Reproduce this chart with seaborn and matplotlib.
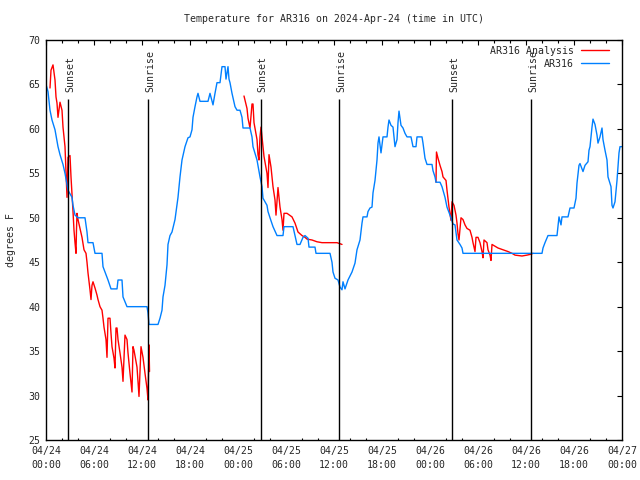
import matplotlib
matplotlib.use("Agg")
import matplotlib.pyplot as plt
import seaborn as sns
import pandas as pd
from matplotlib.ticker import MultipleLocator

# hours since 2024-04-24 00:00 UTC
blue_h = [0, 0.25, 0.5, 0.75, 1.125, 1.5, 1.75, 2.125, 2.375, 2.75,
          3.25, 3.375, 3.625, 4, 4.875, 5.125, 5.25, 5.875, 6.125, 7,
          7.125, 7.375, 7.75, 8.125, 8.875, 9, 9.5, 9.625, 10.125, 12.625,
          12.75, 12.875, 14, 14.25, 14.5, 14.625, 14.875, 15.125, 15.25, 15.5,
          15.75, 16.125, 16.5, 16.75, 17, 17.375, 17.75, 18, 18.25, 18.375,
          18.625, 18.875, 19, 19.25, 20.25, 20.5, 20.875, 21.125, 21.375, 21.75,
          22, 22.375, 22.5, 22.75, 22.875, 23, 23.25, 23.625, 23.875, 24.25,
          24.5, 24.625, 25.5, 25.75, 25.875, 26.375, 26.75, 27, 27.125, 27.625,
          27.75, 28, 28.375, 28.875, 29.625, 29.75, 30.875, 31.125, 31.375, 31.75,
          32.125, 32.375, 32.75, 32.875, 33.625, 33.75, 35.5, 35.75, 35.875, 36.125,
          36.5, 36.75, 37, 37.125, 37.375, 37.75, 38.25, 38.625, 38.875, 39.25,
          39.5, 39.625, 40.125, 40.25, 40.5, 40.75, 40.875, 41.125, 41.375, 41.5,
          41.625, 41.875, 42.125, 42.625, 42.75, 42.875, 43.125, 43.375, 43.625, 43.875,
          44, 44.125, 44.375, 44.625, 44.875, 45.125, 45.625, 45.875, 46.25, 46.375,
          47, 47.125, 47.375, 47.625, 48.25, 48.375, 48.625, 48.75, 49.25, 49.5,
          49.875, 50.125, 50.5, 50.875, 51.125, 51.375, 51.75, 52, 52.125, 62,
          62.125, 62.375, 62.75, 63.875, 64, 64.125, 64.375, 64.5, 65.25, 65.5,
          66, 66.25, 66.375, 66.625, 66.75, 67.125, 67.375, 67.75, 67.875, 68,
          68.25, 68.375, 68.625, 68.875, 69, 69.25, 69.5, 69.625, 69.875, 70.125,
          70.25, 70.625, 70.75, 70.875, 71.125, 71.375, 71.625, 71.75, 72]
blue_v = [65, 64.2, 62.1, 61, 59.9, 58, 57.1, 56, 55, 53.1,
          52.3, 51.4, 50.3, 50, 50, 48.4, 47.2, 47.2, 46, 46,
          44.5, 43.9, 43, 42, 42, 43, 43, 41.1, 40, 40,
          39.3, 38, 38, 38.7, 39.6, 41.1, 42.4, 44.7, 47, 48,
          48.4, 49.8, 52.3, 54.6, 56.5, 58, 59, 59.1, 59.9, 61.3,
          62.5, 63.6, 64, 63.1, 63.1, 64, 62.7, 64, 65.2, 65.2,
          67, 67, 65.6, 67, 65.6, 65.2, 64, 62.5, 62.1, 62.1,
          61.3, 60.1, 60.1, 59.1, 58, 56.5, 54.6, 53.5, 52.2, 51.4,
          50.7, 50, 49, 48, 48, 49, 49, 48, 47, 47,
          47.8, 48, 47.7, 46.7, 46.7, 46, 46, 45, 43.9, 43.2,
          43, 42.2, 41.9, 42.8, 42, 43, 43.9, 44.9, 46.4, 47.5,
          49.4, 50.1, 50.1, 50.7, 51.1, 51.2, 52.8, 54.2, 56.5, 58.4,
          59.1, 57.3, 59.1, 59.1, 60.2, 61, 60.4, 60.2, 58, 58.8,
          60.7, 62, 60.4, 60.1, 59.5, 59.1, 59.1, 58, 58, 59.1,
          59.1, 58.4, 56.7, 56, 56, 55.3, 54.6, 54, 54, 53.5,
          52.3, 51.2, 50.3, 49.3, 49.2, 47.5, 47, 46.6, 46, 46,
          46.6, 47.2, 48, 48, 49, 50.1, 49.2, 50.1, 50.1, 51.1,
          51.1, 52.2, 53.9, 55.9, 56.1, 55.2, 55.9, 56.3, 57.6, 58,
          60.2, 61.1, 60.5, 59.3, 58.4, 59.1, 60.1, 58.8, 57.6, 56.5,
          54.6, 53.5, 51.4, 51.1, 51.8, 54.2, 57.3, 58, 58]

# analysis, three nights
red1_h = [0.5, 0.625, 0.875, 1.125, 1.25, 1.375, 1.5, 1.75, 2.0, 2.125,
          2.375, 2.625, 2.75, 3.0, 3.125, 3.375, 3.5, 3.625, 3.75, 3.81,
          3.875, 4.0, 4.25, 4.5, 4.75, 5.0, 5.125, 5.25, 5.5, 5.625,
          5.75, 5.875, 6.125, 6.375, 6.5, 6.75, 7.0, 7.125, 7.25, 7.5,
          7.625, 7.75, 8.0, 8.125, 8.25, 8.5, 8.625, 8.75, 8.875, 9.0,
          9.25, 9.5, 9.625, 9.875, 10.125, 10.25, 10.5, 10.75, 10.875, 11.0,
          11.375, 11.5, 11.625, 11.875, 12.125, 12.375, 12.625, 12.75, 12.875, 12.94]
red1_v = [64.6, 66.6, 67.2, 65.5, 63.6, 62.9, 61.3, 63.0, 62.1, 60.2,
          58.0, 52.3, 56.8, 57.0, 54.6, 50.7, 48.6, 47.2, 46.0, 48.6,
          50.5, 49.8, 48.8, 47.8, 46.4, 46.0, 45.0, 43.8, 41.9, 40.8,
          42.4, 42.8, 42.1, 41.3, 40.8, 40.0, 39.6, 38.7, 37.7, 36.3,
          34.3, 38.7, 38.7, 37.0, 35.5, 34.2, 33.1, 37.6, 37.6, 36.3,
          34.8, 33.2, 31.6, 36.8, 36.3, 34.8, 32.5, 30.4, 35.5, 35.1,
          33.2, 31.6, 29.9, 35.5, 34.3, 32.5, 30.8, 29.5, 35.7, 32.7]

red2_h = [24.75, 25.125, 25.25, 25.5, 25.75, 25.875, 26.0, 26.375, 26.5, 26.625,
          26.75, 26.875, 27.0, 27.25, 27.625, 27.75, 27.875, 28.125, 28.375, 28.625,
          28.75, 29.0, 29.25, 29.5, 29.625, 29.75, 30.125, 30.75, 31.125, 31.5,
          32.0, 32.375, 32.625, 33.25, 33.875, 34.5, 36.375, 37.0]
red2_v = [63.7, 62.3, 61.2, 60.1, 62.8, 62.8, 60.7, 58.8, 57.1, 56.5,
          59.1, 60.2, 59.1, 56.9, 55.0, 53.4, 57.1, 55.7, 53.5, 52.0,
          50.3, 53.4, 51.2, 49.8, 48.6, 50.5, 50.5, 50.1, 49.4, 48.4,
          48.0, 47.8, 47.6, 47.5, 47.3, 47.2, 47.2, 47.0]

red3_h = [48.75, 48.81, 49.0, 49.25, 49.5, 49.625, 50.0, 50.125, 50.375, 50.625,
          50.75, 51.0, 51.25, 51.375, 51.5, 51.625, 51.875, 52.125, 52.375, 52.625,
          53.0, 53.25, 53.375, 53.625, 53.75, 54.0, 54.25, 54.5, 54.625, 54.75,
          55.125, 55.25, 55.5, 55.625, 55.75, 56.125, 56.5, 57.125, 57.75, 58.25,
          58.625, 59.5, 60.125, 60.625, 60.875]
red3_v = [54.0, 57.4, 56.7, 55.9, 55.2, 54.6, 54.2, 53.1, 51.2, 49.7,
          51.8, 51.4, 50.3, 49.4, 48.2, 47.5, 50.0, 49.8, 49.2, 48.8,
          48.6, 47.8, 47.2, 46.2, 47.8, 47.8, 47.2, 46.2, 45.5, 47.5,
          47.2, 46.4, 45.8, 45.2, 47.0, 46.8, 46.6, 46.4, 46.2, 46.0,
          45.8, 45.7, 45.8, 45.9, 46.0]

sun_h = [2.79, 12.79, 26.83, 36.66, 50.79, 60.66]
sun_lbl = ["Sunset", "Sunrise", "Sunset", "Sunrise", "Sunset", "Sunrise"]

xtick_h = [0, 6, 12, 18, 24, 30, 36, 42, 48, 54, 60, 66, 72]
xtick_lbl = ["04/24\n00:00", "04/24\n06:00", "04/24\n12:00", "04/24\n18:00",
             "04/25\n00:00", "04/25\n06:00", "04/25\n12:00", "04/25\n18:00",
             "04/26\n00:00", "04/26\n06:00", "04/26\n12:00", "04/26\n18:00",
             "04/27\n00:00"]

sns.set_theme(style="white")
plt.rcParams["font.family"] = ["DejaVu Sans Mono"]
fs = 7.1

fig = plt.figure(figsize=(6.4, 4.8), dpi=100)
ax = fig.add_axes([46 / 640, 40 / 480, 576 / 640, 400 / 480])

red = "#ff0000"
blue = "#0080ff"
sns.lineplot(x=red1_h, y=red1_v, ax=ax, color=red, lw=1, sort=False,
             estimator=None, label="AR316 Analysis")
for hh, vv in [(red2_h, red2_v), (red3_h, red3_v)]:
    sns.lineplot(x=hh, y=vv, ax=ax, color=red, lw=1, sort=False, estimator=None)
sns.lineplot(x=blue_h, y=blue_v, ax=ax, color=blue, lw=1, sort=False,
             estimator=None, label="AR316")

ax.vlines(sun_h, 25, 63.4, color="black", lw=1)
for t, s in zip(sun_h, sun_lbl):
    ax.text(t + 0.25, 64.2, s, rotation=90, ha="center", va="bottom", fontsize=fs)

ax.set_xlim(0, 72)
ax.set_ylim(25, 70)
ax.set_xticks(xtick_h)
ax.set_xticklabels(xtick_lbl, fontsize=fs, linespacing=1.55)
ax.xaxis.set_minor_locator(MultipleLocator(2))
ax.set_yticks(range(25, 71, 5))
ax.tick_params(axis="y", labelsize=fs)
ax.tick_params(which="major", direction="in", top=True, right=True,
               length=3.6, width=0.8, color="black", pad=4)
ax.tick_params(which="minor", direction="in", top=True, bottom=True,
               length=1.8, width=0.8, color="black")
for sp in ax.spines.values():
    sp.set_color("black")
    sp.set_linewidth(1)

ax.set_xlabel("")
ax.set_ylabel("degrees F", fontsize=fs, labelpad=9)
ax.set_title("Temperature for AR316 on 2024-Apr-24 (time in UTC)", fontsize=fs, pad=13)
ax.legend(loc="upper right", bbox_to_anchor=(1 - 5 / 576, 1 + 2 / 400),
          frameon=False, markerfirst=False, fontsize=fs,
          handlelength=2.9, handletextpad=0.7, borderaxespad=0.4, labelspacing=0.3)

fig.savefig("out.png", dpi=100)
